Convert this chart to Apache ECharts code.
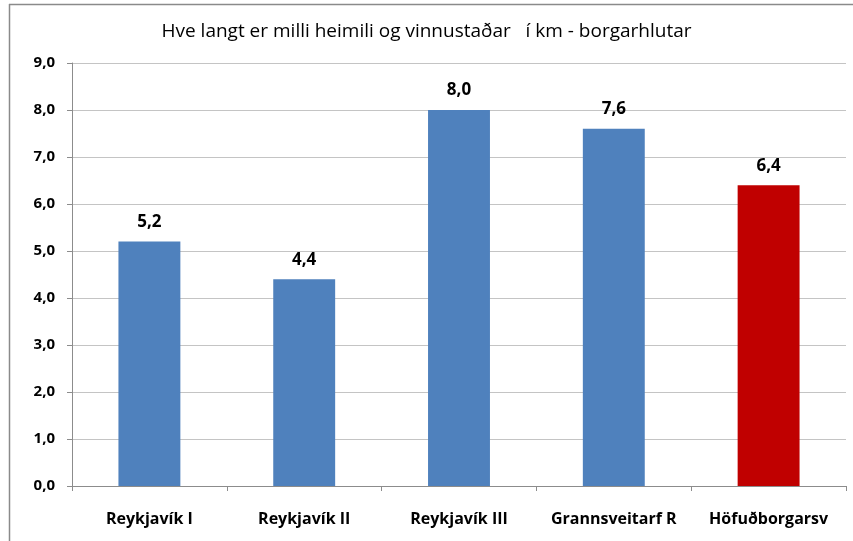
<!DOCTYPE html>
<html>
<head>
<meta charset="utf-8">
<script src="https://cdn.jsdelivr.net/npm/echarts@6/dist/echarts.min.js"></script>
<style>
  html, body { margin: 0; padding: 0; background: #fff; }
  #chart { width: 853px; height: 541px; }
</style>
</head>
<body>
<div id="chart"></div>
<script>
// Distance between home and workplace (km), by city district
const categories = ['Reykjavík I', 'Reykjavík II', 'Reykjavík III', 'Grannsveitarf R', 'Höfuðborgarsv'];
const distances = [5.2, 4.4, 8.0, 7.6, 6.4];
const barColors = ['#4F81BD', '#4F81BD', '#4F81BD', '#4F81BD', '#C00000'];
const titleText = 'Hve langt er milli heimili og vinnustaðar   í km - borgarhlutar';

const FONT = '"Open Sans", "Noto Sans", sans-serif';
const comma = v => Number(v).toFixed(1).replace('.', ',');

const chart = echarts.init(document.getElementById('chart'), null, { renderer: 'canvas' });

chart.setOption({
  animation: false,
  backgroundColor: '#ffffff',
  title: {
    text: titleText,
    left: 'center',
    top: 17,
    textStyle: { fontFamily: FONT, fontSize: 19, fontWeight: 'normal', color: '#000' }
  },
  grid: { left: 72, right: 7, top: 63, bottom: 55, containLabel: false },
  xAxis: {
    type: 'category',
    data: categories,
    axisLine: { show: true, lineStyle: { color: '#8c8c8c', width: 1 } },
    axisTick: { show: true, length: 5, alignWithLabel: false, lineStyle: { color: '#8c8c8c' } },
    axisLabel: {
      margin: 25,
      fontFamily: FONT, fontSize: 16, fontWeight: 'bold', color: '#000',
      interval: 0
    }
  },
  yAxis: {
    type: 'value',
    min: 0, max: 9, interval: 1,
    axisLine: { show: true, lineStyle: { color: '#8c8c8c', width: 1 } },
    axisTick: { show: true, length: 5, lineStyle: { color: '#8c8c8c' } },
    splitLine: { show: true, lineStyle: { color: '#c4c4c4', width: 1 } },
    axisLabel: {
      margin: 17,
      formatter: comma,
      fontFamily: FONT, fontSize: 15, fontWeight: 'bold', color: '#000'
    }
  },
  series: [{
    type: 'bar',
    barWidth: '40%',
    data: distances.map((v, i) => ({ value: v, itemStyle: { color: barColors[i] } })),
    label: {
      show: true,
      position: 'top',
      distance: 11,
      formatter: p => comma(p.value),
      fontFamily: FONT, fontSize: 17, fontWeight: 'bold', color: '#000'
    }
  }],
  graphic: [
    { type: 'line', shape: { x1: 9, y1: 4.5, x2: 853, y2: 4.5 }, style: { stroke: '#8a8a8a', lineWidth: 1.5 } },
    { type: 'line', shape: { x1: 9.5, y1: 4, x2: 9.5, y2: 541 }, style: { stroke: '#8a8a8a', lineWidth: 1.5 } }
  ]
});
</script>
</body>
</html>
